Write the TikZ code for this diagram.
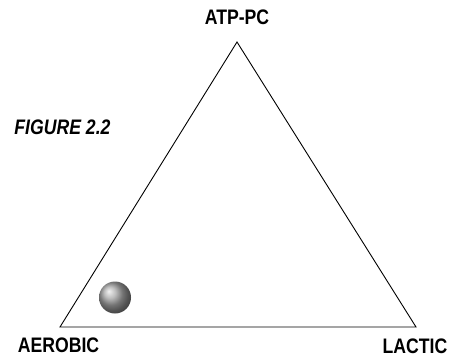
\documentclass[tikz,border=0pt]{standalone}
\usepackage{fontspec}
\usepackage{tikz}
\usetikzlibrary{positioning, calc}
\setmainfont{Liberation Sans}
\newfontfamily\narrowfont[FakeStretch=0.84]{Liberation Sans}

\begin{document}
\begin{tikzpicture}[
    x=1pt, y=-1pt,
    corner/.style={
        inner sep=0pt,
        anchor=base,
        font=\narrowfont\bfseries\fontsize{21}{23}\selectfont
    },
    titlelabel/.style={
        inner sep=0pt,
        anchor=base,
        font=\narrowfont\bfseries\itshape\fontsize{21}{23}\selectfont
    },
    side/.style={black, line width=0.9pt, line join=miter},
    ball/.style={circle, inner sep=0pt, minimum size=32pt, ball color=gray!70}
]

\useasboundingbox (0,0) rectangle (454,358);

\coordinate (top) at (237,42);
\coordinate (left) at (60,327);
\coordinate (right) at (416,327);

\draw[side] (top) -- (right) -- (left) -- cycle;

\node[corner] (atp) at (237,25) {ATP-PC};
\node[corner] (aerobic) at (58.5,352) {AEROBIC};
\node[corner] (lactic) at (415,353) {LACTIC};
\node[titlelabel] (fig) at (62.5,135) {FIGURE 2.2};

\node[ball] (marker) at (115,297.5) {};

\end{tikzpicture}
\end{document}
